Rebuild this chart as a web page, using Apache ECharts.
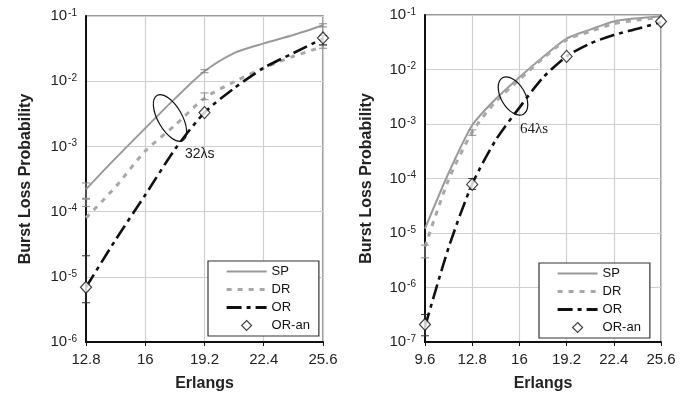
<!DOCTYPE html>
<html>
<head>
<meta charset="utf-8">
<script src="https://cdn.jsdelivr.net/npm/echarts@6/dist/echarts.min.js"></script>
<style>
  html, body { margin: 0; padding: 0; background: #fff; }
  #chart { width: 688px; height: 397px; }
</style>
</head>
<body>
<div id="chart"></div>
<script>
// left panel: 32 wavelengths
const xLeft = [12.8, 14.4, 16, 17.6, 19.2, 20.8, 22.4, 24, 25.6];
const spLeft = [2.2e-4, 6.6e-4, 1.9e-3, 5.4e-3, 1.42e-2, 2.7e-2, 3.8e-2, 5.1e-2, 7.2e-2];
const drLeft = [8e-5, 2.4e-4, 8.5e-4, 2.1e-3, 5.5e-3, 9.8e-3, 1.6e-2, 2.4e-2, 3.4e-2];
const orLeft = [6.9e-6, 3.7e-5, 1.8e-4, 9e-4, 3.3e-3, 7.8e-3, 1.6e-2, 2.7e-2, 4.5e-2];
const anXLeft = [12.8, 19.2, 25.6];
const anLeft = [6.9e-6, 3.3e-3, 4.6e-2];

// right panel: 64 wavelengths
const xRight = [9.6, 11.2, 12.8, 14.4, 16, 17.6, 19.2, 20.8, 22.4, 24, 25.6];
const spRight = [1.2e-5, 1.26e-4, 9.5e-4, 2.9e-3, 7.2e-3, 1.7e-2, 3.7e-2, 5.4e-2, 7.6e-2, 8.7e-2, 9.5e-2];
const drRight = [5.6e-6, 9.5e-5, 7.1e-4, 2.6e-3, 6.5e-3, 1.6e-2, 3.5e-2, 5.0e-2, 6.9e-2, 8.1e-2, 9.1e-2];
const orRight = [1.9e-7, 5.4e-6, 7.9e-5, 5.1e-4, 2.0e-3, 7.1e-3, 1.74e-2, 3.0e-2, 4.3e-2, 5.6e-2, 7.4e-2];
const anXRight = [9.6, 12.8, 19.2, 25.6];
const anRight = [2.1e-7, 7.8e-5, 1.74e-2, 7.6e-2];

// confidence intervals [x, low, high]
const spErrLeft = [[12.8, 1.55e-4, 2.75e-4], [19.2, 1.35e-2, 1.5e-2], [25.6, 6.8e-2, 7.6e-2]];
const drErrLeft = [[12.8, 1.2e-4, 1.6e-4], [19.2, 5.2e-3, 6.6e-3], [25.6, 3.2e-2, 3.6e-2]];
const orErrLeft = [[12.8, 4e-6, 2.1e-5], [25.6, 3.6e-2, 5.0e-2]];
const drErrRight = [[9.6, 3.5e-6, 6e-6], [12.8, 6.2e-4, 7.8e-4]];
const orErrRight = [[9.6, 1.3e-7, 3.2e-7], [12.8, 6.3e-5, 1.0e-4]];

const FONT = "Liberation Sans, Arial, sans-serif";

const chart = echarts.init(document.getElementById("chart"));

const zip = (xs, ys) => xs.map((x, i) => [x, ys[i]]);

const styles = {
  SP: { color: "#9a9a9a", width: 2, type: "solid" },
  DR: { color: "#a8a8a8", width: 3, type: [5, 6] },
  OR: { color: "#111", width: 2.6, type: [15, 5, 4, 5] },
};

function lineSeries(name, idx, xs, ys) {
  const s = styles[name];
  return {
    name, type: "line", xAxisIndex: idx, yAxisIndex: idx,
    data: zip(xs, ys), smooth: 0.25, symbol: "none",
    itemStyle: { color: s.color },
    lineStyle: { color: s.color, width: s.width, type: s.type },
    z: name === "OR" ? 4 : 3,
  };
}

function anSeries(idx, xs, ys) {
  return {
    name: "OR-an", type: "scatter", xAxisIndex: idx, yAxisIndex: idx,
    data: zip(xs, ys), symbol: "diamond", symbolSize: [11, 12], clip: false,
    itemStyle: { color: "#fff", borderColor: "#111", borderWidth: 1.2 },
    z: 5,
  };
}

function errSeries(idx, rows, color) {
  return {
    type: "custom", xAxisIndex: idx, yAxisIndex: idx, data: rows, clip: false,
    encode: { x: 0, y: [1, 2] }, z: 4, silent: true,
    renderItem: (params, api) => {
      const a = api.coord([api.value(0), api.value(1)]);
      const b = api.coord([api.value(0), api.value(2)]);
      const st = { stroke: color, lineWidth: 1 };
      return {
        type: "group",
        children: [
          { type: "line", shape: { x1: a[0], y1: a[1], x2: b[0], y2: b[1] }, style: st },
          { type: "line", shape: { x1: a[0] - 4, y1: a[1], x2: a[0] + 4, y2: a[1] }, style: st },
          { type: "line", shape: { x1: b[0] - 4, y1: b[1], x2: b[0] + 4, y2: b[1] }, style: st },
        ],
      };
    },
  };
}

function xAxis(idx, min) {
  return {
    type: "value", gridIndex: idx, min, max: 25.6, interval: 3.2,
    name: "Erlangs", nameLocation: "middle", nameGap: 34,
    nameTextStyle: { fontFamily: FONT, fontSize: 16, fontWeight: "bold", color: "#222" },
    axisLine: { onZero: false, lineStyle: { color: "#111", width: 2 } },
    axisTick: { show: true, length: 4, lineStyle: { color: "#111" } },
    axisLabel: {
      fontFamily: FONT, fontSize: 15, color: "#222", margin: 10,
      formatter: (v) => String(Math.round(v * 10) / 10),
    },
    splitLine: { show: true, lineStyle: { color: "#cfcfcf", width: 1.2 } },
  };
}

function yAxis(idx, min, gap) {
  return {
    type: "log", logBase: 10, gridIndex: idx, min, max: 1e-1,
    name: "Burst Loss Probability", nameLocation: "middle", nameGap: gap,
    nameTextStyle: { fontFamily: FONT, fontSize: 16, fontWeight: "bold", color: "#222" },
    axisLine: { lineStyle: { color: "#111", width: 2 } },
    axisTick: { show: false },
    axisLabel: {
      fontFamily: FONT, fontSize: 15, color: "#222", margin: 9,
      formatter: (v) => "10{s|" + Math.round(Math.log10(v)) + "}",
      rich: { s: { fontFamily: FONT, fontSize: 10, color: "#222", verticalAlign: "top", padding: [0, 0, 6, 1] } },
    },
    splitLine: { show: true, lineStyle: { color: "#cfcfcf", width: 1.2 } },
  };
}

function legend(left, top) {
  return {
    data: [
      { name: "SP", itemStyle: { opacity: 0 }, lineStyle: { width: 2.2 } },
      { name: "DR", itemStyle: { opacity: 0 }, lineStyle: { width: 3.2 } },
      { name: "OR", itemStyle: { opacity: 0 }, lineStyle: { width: 3.2 } },
      { name: "OR-an", icon: "path://M0,-5L5,0L0,5L-5,0Z",
        itemStyle: { color: "#fff", borderColor: "#111", borderWidth: 1.2 } },
    ],
    orient: "vertical", left, top,
    itemWidth: 40, itemHeight: 10, itemGap: 5,
    padding: [4, 9, 4, 17],
    borderColor: "#333", borderWidth: 1.2, borderRadius: 0,
    backgroundColor: "#fff",
    textStyle: { fontFamily: FONT, fontSize: 13, color: "#111" },
    selectedMode: false,
  };
}

chart.setOption({
  animation: false,
  backgroundColor: "#fff",
  grid: [
    { left: 86, right: 365, top: 16, bottom: 54, show: true, borderColor: "#7a7a7a", borderWidth: 1.5 },
    { left: 425, right: 27, top: 15, bottom: 54, show: true, borderColor: "#7a7a7a", borderWidth: 1.5 },
  ],
  xAxis: [xAxis(0, 12.8), xAxis(1, 9.6)],
  yAxis: [yAxis(0, 1e-6, 52), yAxis(1, 1e-7, 50)],
  legend: [legend(208, 261), legend(539, 263)],
  series: [
    errSeries(0, spErrLeft, "#8a8a8a"),
    errSeries(0, drErrLeft, "#8a8a8a"),
    errSeries(0, orErrLeft, "#333"),
    lineSeries("SP", 0, xLeft, spLeft),
    lineSeries("DR", 0, xLeft, drLeft),
    lineSeries("OR", 0, xLeft, orLeft),
    anSeries(0, anXLeft, anLeft),
    errSeries(1, drErrRight, "#8a8a8a"),
    errSeries(1, orErrRight, "#333"),
    lineSeries("SP", 1, xRight, spRight),
    lineSeries("DR", 1, xRight, drRight),
    lineSeries("OR", 1, xRight, orRight),
    anSeries(1, anXRight, anRight),
  ],
  graphic: [
    { type: "ellipse", shape: { cx: 0, cy: 0, rx: 12, ry: 26 }, x: 170, y: 118, rotation: Math.PI / 6,
      style: { fill: "none", stroke: "#111", lineWidth: 1.2 }, z: 10 },
    { type: "text", left: 185, top: 147, style: { text: "32λs", fontFamily: FONT, fontSize: 14, fill: "#222" }, z: 10 },
    { type: "ellipse", shape: { cx: 0, cy: 0, rx: 12, ry: 21 }, x: 513, y: 96, rotation: Math.PI / 6,
      style: { fill: "none", stroke: "#111", lineWidth: 1.2 }, z: 10 },
    { type: "text", left: 520, top: 122, style: { text: "64λs", fontFamily: "Liberation Serif, serif", fontSize: 15, fill: "#222" }, z: 10 },
  ],
});
</script>
</body>
</html>
